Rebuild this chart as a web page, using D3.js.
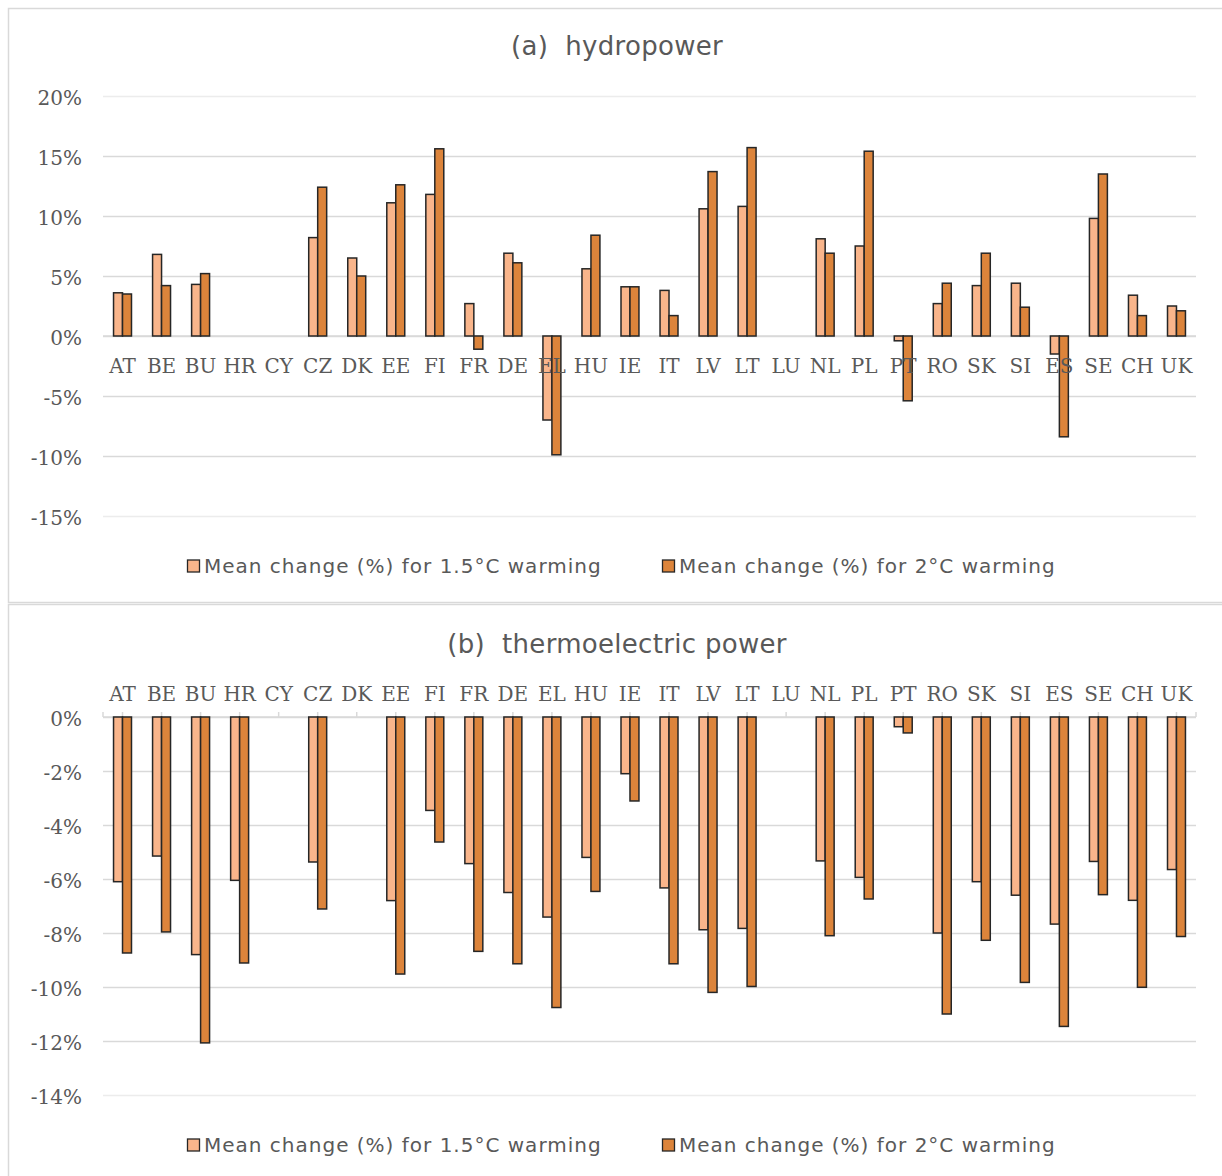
<!DOCTYPE html>
<html lang="en">
<head>
<meta charset="UTF-8">
<title>Mean change hydropower / thermoelectric</title>
<style>
  body { margin: 0; background: #fff; }
  svg { display: block; }
  .lbl { font-family: "DejaVu Serif", serif; font-size: 20px; fill: #595959; }
  .ttl { font-family: "DejaVu Sans", sans-serif; font-size: 26px; fill: #595959; letter-spacing: 0.3px; white-space: pre; }
  .leg { font-family: "DejaVu Sans", sans-serif; font-size: 20px; fill: #595959; letter-spacing: 1px; }
</style>
</head>
<body>
<script src="https://d3js.org/d3.v7.min.js"></script>
<script>
const countries = ['AT','BE','BU','HR','CY','CZ','DK','EE','FI','FR','DE','EL','HU','IE','IT','LV','LT','LU','NL','PL','PT','RO','SK','SI','ES','SE','CH','UK'];

// (a) hydropower, mean change in %
const hydro15 = [3.6, 6.8, 4.3, null, null, 8.2, 6.5, 11.1, 11.8, 2.7, 6.9, -7.0, 5.6, 4.1, 3.8, 10.6, 10.8, null, 8.1, 7.5, -0.4, 2.7, 4.2, 4.4, -1.5, 9.8, 3.4, 2.5];
const hydro2  = [3.5, 4.2, 5.2, null, null, 12.4, 5.0, 12.6, 15.6, -1.1, 6.1, -9.9, 8.4, 4.1, 1.7, 13.7, 15.7, null, 6.9, 15.4, -5.4, 4.4, 6.9, 2.4, -8.4, 13.5, 1.7, 2.1];

// (b) thermoelectric power, mean change in %
const thermo15 = [-6.1, -5.15, -8.8, -6.05, null, -5.37, null, -6.8, -3.46, -5.43, -6.5, -7.41, -5.2, -2.1, -6.33, -7.88, -7.83, null, -5.33, -5.94, -0.36, -8.0, -6.1, -6.6, -7.67, -5.35, -6.79, -5.65];
const thermo2  = [-8.74, -7.96, -12.07, -9.11, null, -7.11, null, -9.52, -4.63, -8.68, -9.14, -10.76, -6.46, -3.11, -9.14, -10.2, -9.98, null, -8.1, -6.74, -0.59, -11.0, -8.27, -9.83, -11.46, -6.58, -10.01, -8.13];

const hydroTicks = [20, 15, 10, 5, 0, -5, -10, -15];
const thermoTicks = [0, -2, -4, -6, -8, -10, -12, -14];

const seriesNames = ['Mean change (%) for 1.5°C warming', 'Mean change (%) for 2°C warming'];
const colors = ['#F9B58B', '#DC843B'];

const W = 1222, H = 1176;
const svg = d3.select('body').append('svg').attr('width', W).attr('height', H);

// panel frames
svg.append('rect').attr('x', 8.5).attr('y', 8.5).attr('width', 1260).attr('height', 594)
  .attr('fill', 'none').attr('stroke', '#d9d9d9').attr('stroke-width', 1.5);
svg.append('rect').attr('x', 8.5).attr('y', 604.5).attr('width', 1260).attr('height', 620)
  .attr('fill', 'none').attr('stroke', '#d9d9d9').attr('stroke-width', 1.5);

const x = d3.scaleBand().domain(countries).range([103, 1196]).paddingInner(0.54).paddingOuter(0.27);
const xs = d3.scaleBand().domain([0, 1]).range([0, x.bandwidth()]);

function panel(cfg) {
  const y = d3.scaleLinear().domain(cfg.domain).range(cfg.range);
  const g = svg.append('g');

  // gridlines
  g.append('g')
    .attr('transform', 'translate(103,0)')
    .call(d3.axisLeft(y).tickValues(cfg.ticks).tickSize(-(1196 - 103)).tickFormat(''))
    .call(s => s.select('.domain').remove())
    .call(s => s.selectAll('line').attr('stroke', d => (d === cfg.domain[0] || d === cfg.domain[1]) && d !== 0 ? '#ececec' : '#d9d9d9').attr('stroke-width', 1.5));

  // y labels
  g.append('g')
    .attr('transform', 'translate(82,0)')
    .call(d3.axisLeft(y).tickValues(cfg.ticks).tickSize(0).tickPadding(0).tickFormat(d => d + '%'))
    .call(s => s.select('.domain').remove())
    .call(s => s.selectAll('text').attr('class', 'lbl').attr('font-size', null).attr('font-family', null).attr('fill', null).attr('dy', '0.42em'));

  // zero axis line
  g.append('line').attr('x1', 103).attr('x2', 1196).attr('y1', y(0)).attr('y2', y(0))
    .attr('stroke', '#d9d9d9').attr('stroke-width', 1.5);

  if (cfg.axisTicks) {
    const tickX = countries.map(c => x(c) + x.bandwidth() / 2).concat([103, 1196]);
    g.selectAll('.xtick').data(tickX).enter().append('line')
      .attr('x1', d => d).attr('x2', d => d)
      .attr('y1', y(0)).attr('y2', y(0) - 5)
      .attr('stroke', '#d9d9d9').attr('stroke-width', 1.5);
  }

  // bars
  const rows = countries.map((c, i) => ({ c, v: [cfg.s15[i], cfg.s2[i]] }));
  const grp = g.selectAll('.cat').data(rows).enter().append('g')
    .attr('transform', d => `translate(${x(d.c)},0)`);
  grp.selectAll('rect')
    .data(d => d.v.map((v, k) => ({ v, k })).filter(e => e.v !== null))
    .enter().append('rect')
    .attr('x', e => xs(e.k))
    .attr('width', xs.bandwidth())
    .attr('y', e => y(Math.max(0, e.v)))
    .attr('height', e => Math.abs(y(e.v) - y(0)))
    .attr('fill', e => colors[e.k])
    .attr('stroke', '#262626')
    .attr('stroke-width', 1.5);

  // category labels
  g.append('g')
    .attr('transform', `translate(0,${cfg.catY})`)
    .call(d3.axisBottom(x).tickSize(0).tickPadding(0))
    .call(s => s.select('.domain').remove())
    .call(s => s.selectAll('text').attr('class', 'lbl').attr('font-size', null).attr('font-family', null).attr('fill', null).attr('dy', 0));

  // title
  svg.append('text').attr('class', 'ttl').attr('x', 617).attr('y', cfg.titleY)
    .attr('text-anchor', 'middle').text(cfg.title);

  // legend
  const legX = [187, 662];
  const leg = svg.append('g').selectAll('g').data(seriesNames).enter().append('g')
    .attr('transform', (d, i) => `translate(${legX[i]},${cfg.legY})`);
  leg.append('rect').attr('x', 0.5).attr('y', -6).attr('width', 12).attr('height', 12)
    .attr('fill', (d, i) => colors[i]).attr('stroke', '#262626').attr('stroke-width', 1.3);
  leg.append('text').attr('class', 'leg').attr('x', 17).attr('y', 7).text(d => d);
}

panel({
  title: '(a)  hydropower', titleY: 55,
  s15: hydro15, s2: hydro2,
  domain: [-15, 20], range: [516, 96], ticks: hydroTicks,
  catY: 373, axisTicks: false, legY: 566
});

panel({
  title: '(b)  thermoelectric power', titleY: 653,
  s15: thermo15, s2: thermo2,
  domain: [-14, 0], range: [1095, 717], ticks: thermoTicks,
  catY: 701, axisTicks: true, legY: 1145
});
</script>
</body>
</html>
